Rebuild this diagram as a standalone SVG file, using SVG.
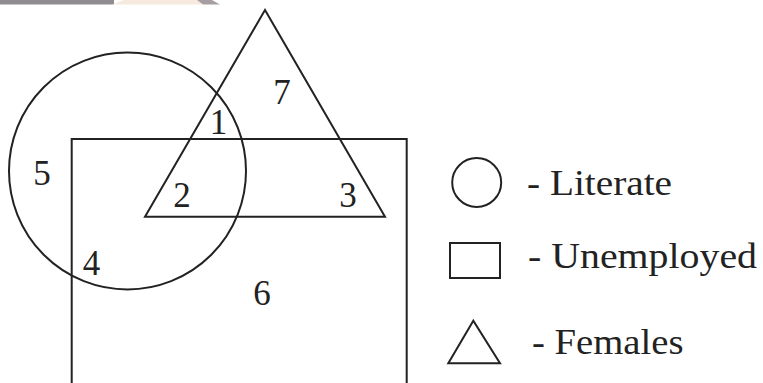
<svg xmlns="http://www.w3.org/2000/svg" width="763" height="383" viewBox="0 0 763 383">
<style>
.s{fill:none;stroke:#222;stroke-width:2}
.t{font-family:"Liberation Serif","DejaVu Serif",serif;font-size:35px;fill:#222}
.n{text-anchor:middle}
</style>
<rect width="763" height="383" fill="#fff"/>
<g id="watermark">
<rect x="0" y="0" width="114" height="4.5" fill="#8e8c8e"/>
<polygon points="112,4.5 124,0 197,0 203,4.5" fill="#f6eadf"/>
<polygon points="197,0 212,0 220,4.5 203,4.5" fill="#a79ea3"/>
</g>
<g id="unemployed"><path class="s" d="M71.7,390 V139 H406.7 V390"/></g>
<g id="literate"><circle class="s" cx="127.5" cy="171" r="118.5"/></g>
<g id="females"><polygon class="s" points="265,10 145,216.7 385,216.7"/></g>
<g id="labels">
<text class="t n" x="282" y="104">7</text>
<text class="t n" x="218.5" y="134">1</text>
<text class="t n" x="42" y="185">5</text>
<text class="t n" x="182" y="207">2</text>
<text class="t n" x="348" y="207">3</text>
<text class="t n" x="91.5" y="275">4</text>
<text class="t n" x="262" y="305">6</text>
</g>
<g id="legend-literate">
<circle class="s" cx="476.7" cy="182.5" r="24.5"/>
<text class="t" x="527" y="195" textLength="145" lengthAdjust="spacingAndGlyphs">- Literate</text>
</g>
<g id="legend-unemployed">
<rect class="s" x="450" y="243" width="50" height="35"/>
<text class="t" x="528" y="268" textLength="229" lengthAdjust="spacingAndGlyphs">- Unemployed</text>
</g>
<g id="legend-females">
<polygon class="s" points="473.3,320.7 448.3,363.3 500,363.3"/>
<text class="t" x="532" y="353.5" textLength="151.5" lengthAdjust="spacingAndGlyphs">- Females</text>
</g>
</svg>
